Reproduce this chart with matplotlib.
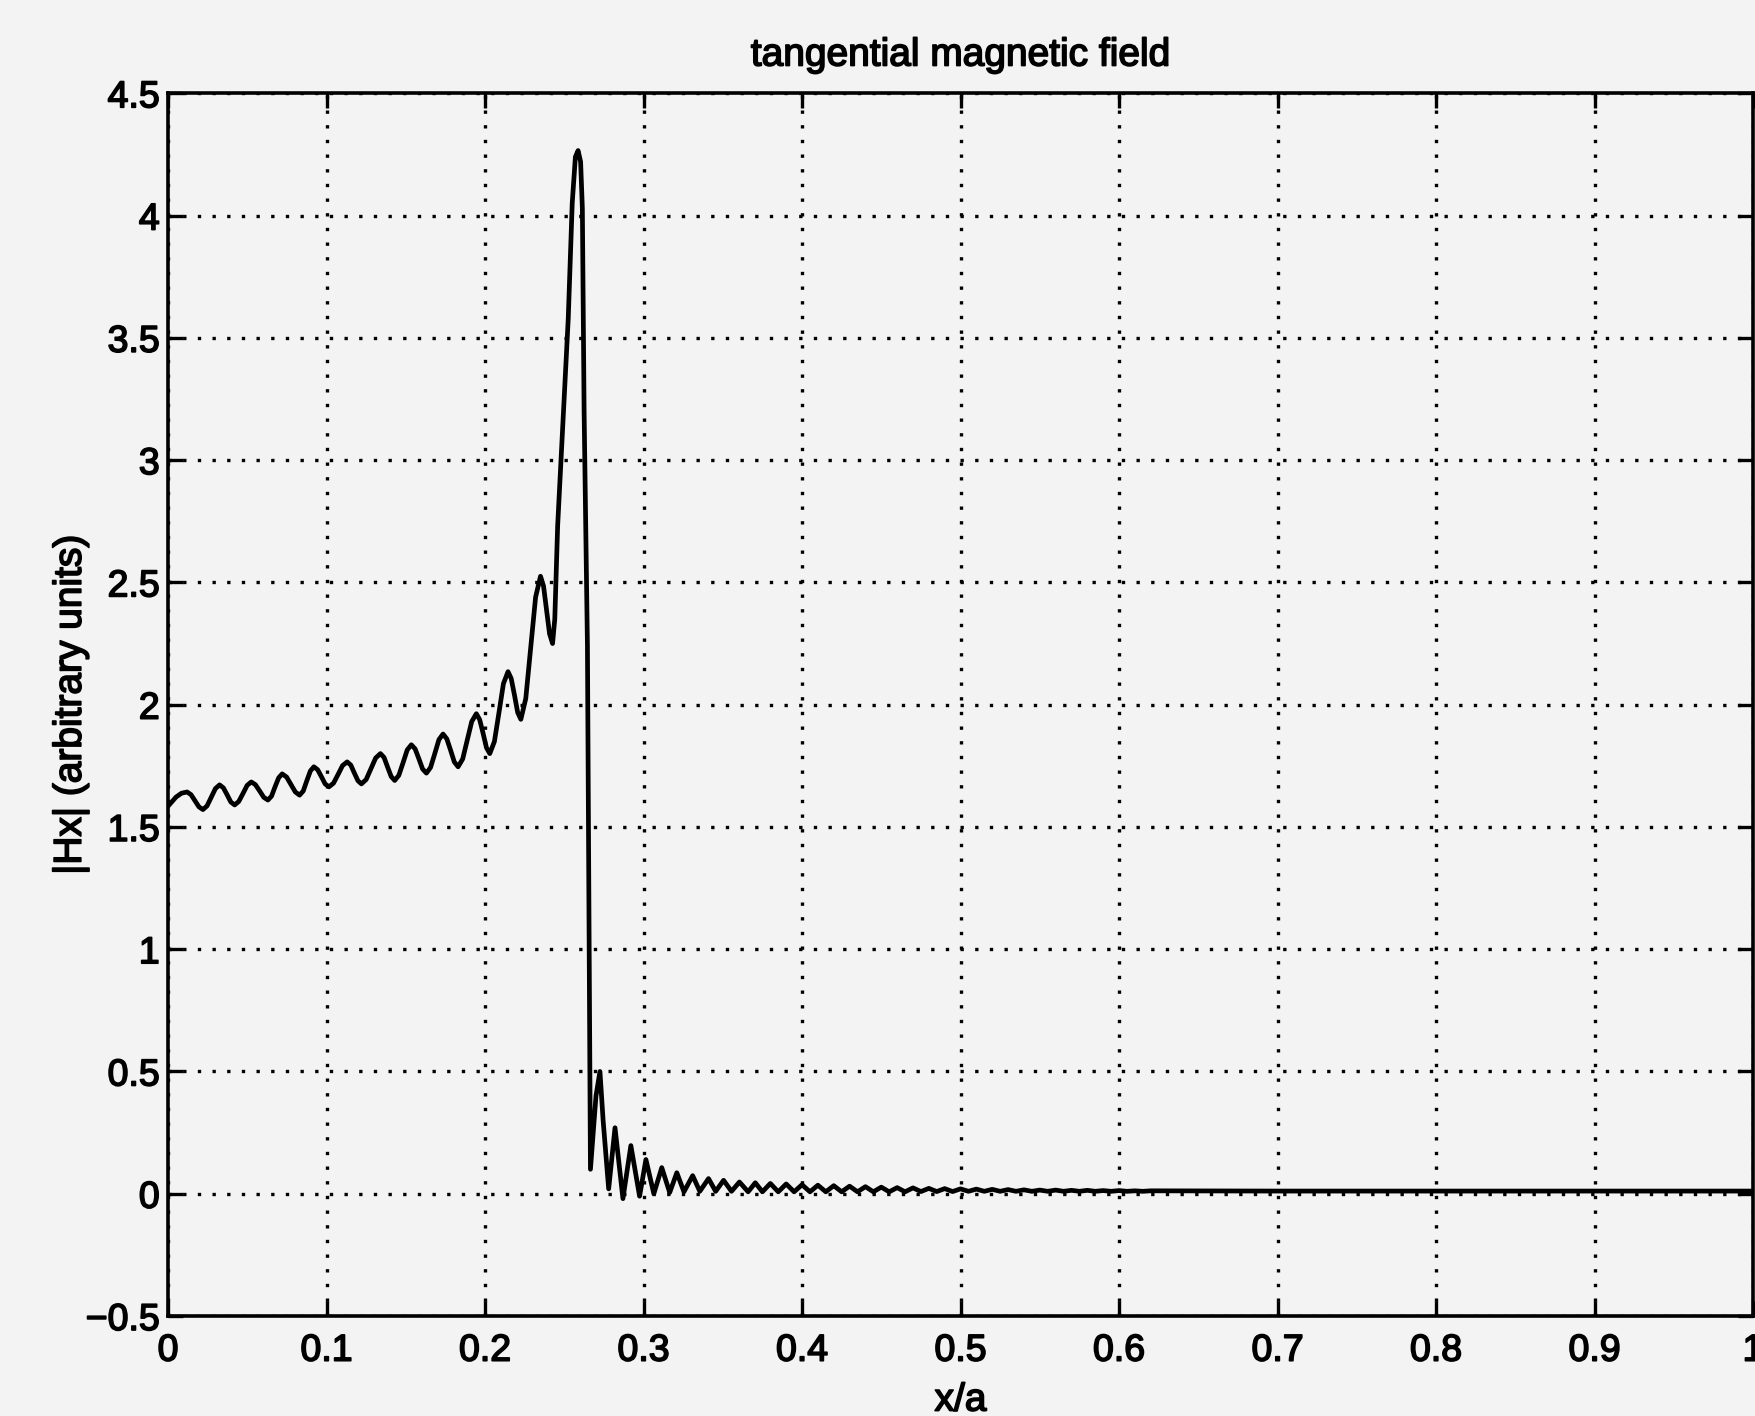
import numpy as np
import matplotlib.pyplot as plt
import matplotlib.patheffects as pe

plt.rcParams['font.family'] = ['Liberation Sans', 'DejaVu Sans']

# values (wavy part before the peak)
x_start = [0.000, 0.005, 0.0085, 0.012,
           0.0145, 0.017, 0.0195, 0.022, 0.0246, 0.0273, 0.0299, 0.0325,
           0.0349, 0.0373, 0.0396, 0.042, 0.0446, 0.0473, 0.0499, 0.0525,
           0.0551, 0.0578, 0.0604, 0.063, 0.0653, 0.0675, 0.0698, 0.072,
           0.0748, 0.0775, 0.0803, 0.083, 0.0853, 0.0875, 0.0898, 0.092,
           0.0944, 0.0968, 0.0991, 0.1015, 0.1044, 0.1073, 0.1101, 0.113,
           0.1153, 0.1175, 0.1198, 0.122, 0.125, 0.128, 0.131, 0.134,
           0.1363, 0.1385, 0.1408, 0.143, 0.1456, 0.1483, 0.1509, 0.1535,
           0.1559, 0.1583, 0.1606, 0.163, 0.1656, 0.1683, 0.1709, 0.1735,
           0.1759, 0.1783, 0.1806, 0.183, 0.1859, 0.1888, 0.1916, 0.1945,
           0.1966, 0.1988, 0.2009, 0.203, 0.2059, 0.2088, 0.2116, 0.2145,
           0.2165, 0.2186, 0.2206, 0.2226, 0.2257, 0.2288, 0.2319, 0.235,
           0.2369, 0.2388, 0.2407, 0.2426]
y_start = [1.585, 1.622, 1.638, 1.643,
           1.632, 1.607, 1.582, 1.571, 1.586, 1.622, 1.657, 1.672,
           1.660, 1.631, 1.602, 1.590, 1.604, 1.637, 1.670, 1.684,
           1.673, 1.647, 1.621, 1.610, 1.626, 1.664, 1.701, 1.717,
           1.704, 1.674, 1.643, 1.630, 1.647, 1.688, 1.729, 1.746,
           1.734, 1.705, 1.676, 1.664, 1.679, 1.715, 1.751, 1.766,
           1.753, 1.721, 1.689, 1.676, 1.694, 1.738, 1.782, 1.800,
           1.784, 1.745, 1.706, 1.690, 1.711, 1.763, 1.815, 1.836,
           1.819, 1.778, 1.737, 1.720, 1.743, 1.800, 1.857, 1.880,
           1.860, 1.813, 1.766, 1.746, 1.778, 1.855, 1.931, 1.963,
           1.939, 1.882, 1.824, 1.800, 1.849, 1.968, 2.086, 2.135,
           2.107, 2.038, 1.968, 1.940, 2.025, 2.233, 2.440, 2.525,
           2.485, 2.388, 2.290, 2.250]

# main peak and the drop
x_peak = [0.2440, 0.2458, 0.2525, 0.2550, 0.2570, 0.2587, 0.2603, 0.2614,
          0.2625, 0.2646, 0.2665, 0.2700, 0.2725, 0.2745, 0.278]
y_peak = [2.35, 2.73, 3.58, 4.05, 4.24, 4.266, 4.22, 4.03,
          3.20, 2.24, 0.10, 0.40, 0.50, 0.30, 0.02]

# decaying ripple and flat tail
x_tail = [0.282, 0.287, 0.292, 0.2975, 0.3015, 0.3065, 0.3115, 0.3165, 0.321, 0.3255,
          0.331, 0.3355, 0.341, 0.3455, 0.3505, 0.3555, 0.3605, 0.366, 0.3705, 0.375,
          0.380, 0.385, 0.390, 0.395, 0.400, 0.405, 0.410, 0.415, 0.420, 0.425,
          0.430, 0.435, 0.440, 0.445, 0.450, 0.455, 0.460, 0.465, 0.470, 0.475,
          0.480, 0.485, 0.490, 0.495, 0.500, 0.505, 0.510, 0.515, 0.520, 0.525,
          0.530, 0.535, 0.540, 0.545, 0.550, 0.555, 0.560, 0.565, 0.570, 0.575,
          0.580, 0.585, 0.590, 0.595, 0.600, 0.605, 0.610, 0.615, 0.620, 0.700,
          0.800, 0.900, 1.000]
y_tail = [0.270, -0.020, 0.197, -0.010, 0.140, 0.000, 0.107, 0.005, 0.086, 0.008,
          0.074, 0.010, 0.062, 0.010, 0.055, 0.010, 0.048, 0.008, 0.045, 0.008,
          0.042, 0.008, 0.040, 0.008, 0.037, 0.008, 0.035, 0.008, 0.033, 0.008,
          0.031, 0.008, 0.029, 0.008, 0.027, 0.008, 0.025, 0.008, 0.024, 0.009,
          0.022, 0.009, 0.021, 0.009, 0.020, 0.010, 0.019, 0.010, 0.018, 0.010,
          0.017, 0.010, 0.016, 0.010, 0.015, 0.010, 0.015, 0.010, 0.014, 0.010,
          0.014, 0.010, 0.013, 0.010, 0.013, 0.010, 0.012, 0.010, 0.012, 0.011,
          0.011, 0.011, 0.011]

x_ticks = [0, 0.1, 0.2, 0.3, 0.4, 0.5, 0.6, 0.7, 0.8, 0.9, 1]
x_ticklabels = ['0', '0.1', '0.2', '0.3', '0.4', '0.5', '0.6', '0.7', '0.8', '0.9', '1']
y_ticks = [-0.5, 0, 0.5, 1, 1.5, 2, 2.5, 3, 3.5, 4, 4.5]
y_ticklabels = ['\u22120.5', '0', '0.5', '1', '1.5', '2', '2.5', '3', '3.5', '4', '4.5']

x = np.array(x_start + x_peak + x_tail)
y = np.array(y_start + y_peak + y_tail)

bg = '#f3f3f3'
fig = plt.figure(figsize=(17.56, 14.16), dpi=100, facecolor=bg)
ax = fig.add_axes([0.0957, 0.0706, 0.9026, 0.8635], facecolor=bg)

ax.plot(x, y, color='black', linewidth=3.4, solid_joinstyle='round',
        solid_capstyle='round')

ax.set_xlim(0, 1)
ax.set_ylim(-0.5, 4.5)
ax.set_xticks(x_ticks)
ax.set_xticklabels(x_ticklabels)
ax.set_yticks(y_ticks)
ax.set_yticklabels(y_ticklabels)

# MATLAB style dotted grid
ax.grid(True, color='black', linestyle=(0, (1, 3.4)), linewidth=2.4)

ax.tick_params(direction='in', length=11, width=2.4, top=True, right=True,
               labelsize=27, colors='black')
ax.tick_params(axis='x', pad=12)
ax.tick_params(axis='y', pad=6)
for s in ax.spines.values():
    s.set_linewidth(2.6)

# scanned text looks heavier than plain regular weight
bold = [pe.withStroke(linewidth=1.2, foreground='black')]
for lab in ax.get_xticklabels() + ax.get_yticklabels():
    lab.set_path_effects(bold)

t = ax.set_title('tangential magnetic field', fontsize=28, pad=20)
t.set_path_effects(bold)
xl = ax.set_xlabel('x/a', fontsize=28, labelpad=10)
xl.set_path_effects(bold)
yl = ax.set_ylabel('|Hx| (arbitrary units)', fontsize=28)
yl.set_path_effects(bold)
ax.yaxis.set_label_coords(-0.05, 0.5)

plt.savefig('out.png', dpi=100, facecolor=bg)
